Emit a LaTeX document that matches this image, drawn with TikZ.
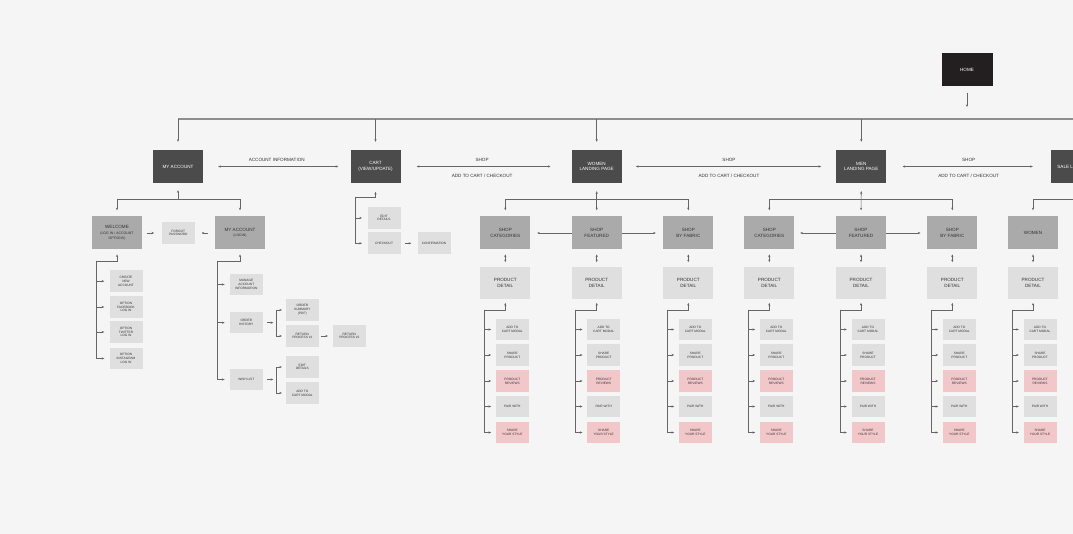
\documentclass[tikz,border=0pt]{standalone}
\usepackage{fontspec}
\setmainfont{Liberation Sans}
\usetikzlibrary{arrows.meta,calc}
\definecolor{paper}{HTML}{F5F5F5}
\definecolor{homefill}{HTML}{231F20}
\definecolor{pagefill}{HTML}{4B4B4B}
\definecolor{shopfill}{HTML}{AAAAAA}
\definecolor{leaffill}{HTML}{DFDFDF}
\definecolor{pinkfill}{HTML}{F2C7CA}
\definecolor{wire}{HTML}{666666}
\definecolor{busgray}{HTML}{8E8E8E}
\newcommand{\smalltxt}{\fontsize{3.5}{4.2}\selectfont}
\tikzset{box/.style={rectangle,inner sep=0pt,align=center,text=black!80,font=\fontsize{4.6}{5.5}\selectfont}}
\tikzset{homebox/.style={box,fill=homefill,text=white,minimum width=51pt,minimum height=33pt}}
\tikzset{pagebox/.style={box,fill=pagefill,text=white,minimum width=50pt,minimum height=33pt}}
\tikzset{shopbox/.style={box,fill=shopfill,minimum width=50pt,minimum height=33pt}}
\tikzset{detailbox/.style={box,fill=leaffill,minimum width=50pt,minimum height=32pt}}
\tikzset{leaf/.style={box,fill=leaffill,minimum width=33pt,minimum height=21.5pt,font=\fontsize{3.2}{3.8}\selectfont}}
\tikzset{link/.style={draw=wire,line width=0.6pt,-{Stealth[length=2.6pt,width=2.2pt]}}}
\tikzset{twoway/.style={link,{Stealth[length=2.6pt,width=2.2pt]}-{Stealth[length=2.6pt,width=2.2pt]}}}
\tikzset{busline/.style={draw=busgray,line width=1.4pt}}
\tikzset{edgetext/.style={font=\fontsize{4.6}{5.5}\selectfont,text=black!80,inner sep=0pt}}

\begin{document}
\begin{tikzpicture}[x=1pt,y=-1pt]
    \useasboundingbox (0,0) rectangle (1073,534);
    \fill[paper] (0,0) rectangle (1073,534);
    \clip (0,0) rectangle (1073,534);

    \node[homebox] (home) at (967,70) {HOME};
    \node[pagebox] (myacc) at (178,166.5) {MY ACCOUNT};
    \node[pagebox] (cart) at (375.5,166.5) {CART\\(VIEW/UPDATE)};
    \node[pagebox] (women) at (596.7,166.5) {WOMEN\\LANDING PAGE};
    \node[pagebox] (men) at (861.3,166.5) {MEN\\LANDING PAGE};
    \node[pagebox,minimum width=60pt] (sale) at (1081,166.5) {SALE LANDING PAGE};

    \coordinate (bus) at (0,119);
    \draw[busline] (myacc.north |- bus) -- (sale.north |- bus);
    \draw[link,shorten <=6.5pt,shorten >=12pt] (home.south) -- (home.south |- bus);
    \foreach \n in {myacc,cart,women,men,sale}
        \draw[link,shorten >=8pt] (\n.north |- bus) -- (\n.north);

    \draw[twoway,shorten <=15pt,shorten >=12pt] (myacc.east) -- (cart.west)
        node[edgetext,midway,yshift=7pt] {ACCOUNT INFORMATION};
    \draw[twoway,shorten <=16pt,shorten >=21pt] (cart.east) -- (women.west)
        node[edgetext,midway,xshift=-4pt,yshift=7pt] {SHOP}
        node[edgetext,midway,xshift=-4pt,yshift=-9pt] {ADD TO CART / CHECKOUT};
    \draw[twoway,shorten <=14pt,shorten >=15pt] (women.east) -- (men.west)
        node[edgetext,midway,yshift=7pt] {SHOP}
        node[edgetext,midway,yshift=-9pt] {ADD TO CART / CHECKOUT};
    \draw[twoway,shorten <=16pt,shorten >=18pt] (men.east) -- (sale.west)
        node[edgetext,midway,yshift=7pt] {SHOP}
        node[edgetext,midway,yshift=-9pt] {ADD TO CART / CHECKOUT};

    \node[shopbox] (welcome) at (117,233) {WELCOME\\\smalltxt (LOG IN / ACCOUNT\\\smalltxt OPTIONS)};
    \node[leaf] (forgot) at (178.3,233) {FORGOT\\PASSWORD};
    \node[shopbox] (login) at (240,233) {MY ACCOUNT\\\smalltxt (LOGIN)};
    \coordinate (ma-j) at (178,199);
    \draw[link,shorten >=7pt] (ma-j) -- (myacc.south);
    \draw[link,shorten >=6pt] (ma-j) -| (welcome.north);
    \draw[link,shorten >=6pt] (ma-j) -| (login.north);
    \draw[link,shorten <=4.5pt,shorten >=7.5pt] (welcome.east) -- (forgot.west);
    \draw[link,shorten <=7pt,shorten >=6.5pt] (login.west) -- (forgot.east);

    \node[leaf] (create) at (126,281.2) {CREATE\\NEW\\ACCOUNT};
    \node[leaf] (facebook) at (126,307) {OPTION\\FACEBOOK\\LOG IN};
    \node[leaf] (twitter) at (126,332) {OPTION\\TWITTER\\LOG IN};
    \node[leaf] (instagram) at (126,358.5) {OPTION\\INSTAGRAM\\LOG IN};
    \coordinate (we-t) at (96,261);
    \draw[link,shorten >=4.7pt] (we-t) -| (welcome.south);
    \foreach \n in {create,facebook,twitter,instagram}
        \draw[link,shorten >=5pt] (we-t) |- (\n.west);

    \node[leaf] (manage) at (246.3,284.5) {MANAGE\\ACCOUNT\\INFORMATION};
    \node[leaf] (orders) at (246.3,322.7) {ORDER\\HISTORY};
    \node[leaf] (wishlist) at (246.3,379.5) {WISH LIST};
    \coordinate (lo-t) at (217,261);
    \draw[link,shorten >=4.7pt] (lo-t) -| (login.south);
    \foreach \n in {manage,orders,wishlist}
        \draw[link,shorten >=5pt] (lo-t) |- (\n.west);

    \node[leaf] (summary) at (302.3,310) {ORDER\\SUMMARY\\(PDF)};
    \node[leaf] (return1) at (302.3,336) {RETURN\\PROCESS \#1};
    \node[leaf] (return2) at (349.3,336) {RETURN\\PROCESS \#2};
    \coordinate (oh-b) at (276,322.7);
    \draw[link,shorten <=4pt,shorten >=2.7pt] (orders.east) -- (oh-b);
    \draw[link,shorten >=3.7pt] (oh-b) |- (summary.west);
    \draw[link,shorten >=3.7pt] (oh-b) |- (return1.west);
    \draw[link,shorten <=2pt,shorten >=4.7pt] (return1.east) -- (return2.west);

    \node[leaf] (wedit) at (302.3,367) {EDIT\\DETAILS};
    \node[leaf] (wadd) at (302.3,393) {ADD TO\\CART MODAL};
    \coordinate (wl-b) at (276,379.5);
    \draw[link,shorten <=4pt,shorten >=2.7pt] (wishlist.east) -- (wl-b);
    \draw[link,shorten >=3.7pt] (wl-b) |- (wedit.west);
    \draw[link,shorten >=3.7pt] (wl-b) |- (wadd.west);

    \node[leaf,minimum height=22pt] (cedit) at (384,218) {EDIT\\DETAILS};
    \node[leaf,minimum height=22pt] (checkout) at (384,243.3) {CHECKOUT};
    \node[leaf,minimum height=22pt] (confirm) at (434,243.3) {CONFIRMATION};
    \coordinate (ca-t) at (355,197);
    \draw[link,shorten >=8.7pt] (ca-t) -| (cart.south);
    \foreach \n in {cedit,checkout}
        \draw[link,shorten >=5.3pt] (ca-t) |- (\n.west);
    \draw[link,shorten <=4.3pt,shorten >=6pt] (checkout.east) -- (confirm.west);

    \node[shopbox] (wcat) at (505.3,233) {SHOP\\CATEGORIES};
    \node[shopbox] (wfeat) at (596.7,233) {SHOP\\FEATURED};
    \node[shopbox] (wfab) at (688.3,233) {SHOP\\BY FABRIC};
    \node[shopbox] (mcat) at (769.3,233) {SHOP\\CATEGORIES};
    \node[shopbox] (mfeat) at (861,233) {SHOP\\FEATURED};
    \node[shopbox] (mfab) at (952.3,233) {SHOP\\BY FABRIC};
    \node[shopbox] (swomen) at (1033,233) {WOMEN};

    \coordinate (wo-j) at (596.7,199);
    \draw[link,shorten >=6pt] (wo-j) -| (wcat.north);
    \draw[link,shorten >=6pt] (wo-j) -| (wfab.north);
    \draw[twoway,shorten <=8pt,shorten >=6pt] (women.south) -- (wfeat.north);
    \draw[link,shorten >=6.7pt] (wfeat.west) -- (wcat.east);
    \draw[link,shorten >=7.3pt] (wfeat.east) -- (wfab.west);

    \coordinate (me-j) at (861,199);
    \draw[link,shorten >=6pt] (me-j) -| (mcat.north);
    \draw[link,shorten >=6pt] (me-j) -| (mfab.north);
    \draw[twoway,shorten <=8pt,shorten >=6pt] (men.south) -- (mfeat.north);
    \draw[link,shorten >=5.7pt] (mfeat.west) -- (mcat.east);
    \draw[link,shorten >=6.6pt] (mfeat.east) -- (mfab.west);

    \coordinate (sa-j) at (1081,199);
    \draw[link,shorten >=6pt] (sa-j) -| (swomen.north);

    \foreach \c in {wcat,wfeat,wfab,mcat,mfeat,mfab,swomen}{
        \node[detailbox] (\c-pd) at ($(\c)+(0,50)$) {PRODUCT\\DETAIL};
        \draw[twoway,shorten <=4.7pt,shorten >=4.6pt] (\c.south) -- (\c-pd.north);
        \coordinate (\c-t) at ($(\c-pd)+(-21,27)$);
        \draw[link,shorten >=3.7pt] (\c-t) -| (\c-pd.south);
        \foreach \k/\dy/\col/\txt in {add/46.5/leaffill/{ADD TO\\CART MODAL},
                share/72/leaffill/{SHARE\\PRODUCT},
                review/98/pinkfill/{PRODUCT\\REVIEWS},
                pair/123.5/leaffill/{PAIR WITH},
                style/149.5/pinkfill/{SHARE\\YOUR STYLE}}{
            \node[leaf,fill=\col] (\c-\k) at ($(\c-pd)+(7,\dy)$) {\txt};
            \draw[link,shorten >=4.5pt] (\c-t) |- (\c-\k.west);
        }
    }
\end{tikzpicture}
\end{document}
